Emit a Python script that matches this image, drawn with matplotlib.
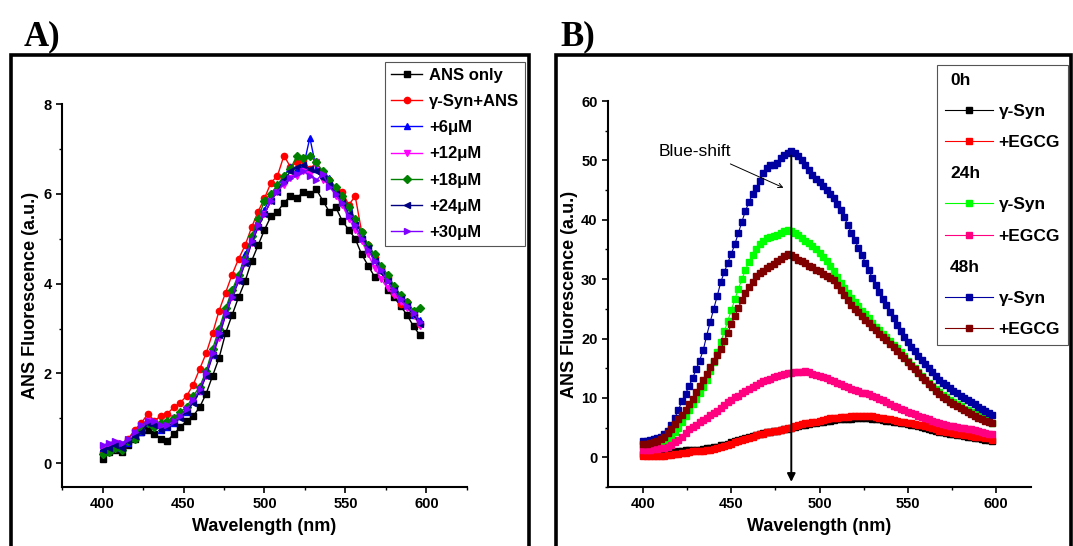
import numpy as np
import matplotlib
matplotlib.use("Agg")
import matplotlib.pyplot as plt
from matplotlib.lines import Line2D
from matplotlib.patches import Rectangle
from matplotlib.ticker import MultipleLocator

plt.rcParams['font.family'] = ['Liberation Sans', 'DejaVu Sans']
plt.rcParams['font.weight'] = 'bold'
plt.rcParams['axes.labelweight'] = 'bold'

# ---- panel A: ANS spectra, 4 nm steps ----
wl_a = np.arange(400, 597, 4)

ans_only = [0.10, 0.25, 0.30, 0.25, 0.40, 0.55, 0.70, 0.75, 0.65, 0.55,
            0.50, 0.65, 0.80, 0.95, 1.05, 1.25, 1.55, 1.95, 2.35, 2.90,
            3.30, 3.70, 4.05, 4.50, 4.85, 5.20, 5.50, 5.60, 5.80, 5.95,
            5.90, 6.05, 6.00, 6.10, 5.85, 5.60, 5.70, 5.40, 5.20, 5.00,
            4.65, 4.40, 4.15, 4.30, 3.85, 3.70, 3.50, 3.30, 3.05, 2.85]
syn_ans = [0.25, 0.40, 0.45, 0.35, 0.55, 0.75, 0.90, 1.10, 0.95, 1.05,
           1.10, 1.25, 1.35, 1.50, 1.75, 2.10, 2.45, 2.90, 3.40, 3.80,
           4.20, 4.55, 4.85, 5.25, 5.60, 5.90, 6.25, 6.40, 6.85, 6.60,
           6.70, 6.75, 6.55, 6.70, 6.45, 6.30, 6.10, 6.05, 5.75, 5.95,
           5.15, 4.85, 4.60, 4.35, 4.15, 3.80, 3.55, 3.60, 3.30, 3.10]
egcg_6 = [0.35, 0.30, 0.35, 0.40, 0.45, 0.60, 0.70, 0.90, 0.85, 0.75,
          0.80, 0.90, 1.05, 1.15, 1.45, 1.60, 2.05, 2.40, 2.95, 3.40,
          3.80, 4.15, 4.65, 5.00, 5.35, 5.65, 5.95, 6.15, 6.40, 6.60,
          6.55, 6.60, 7.25, 6.55, 6.50, 6.35, 6.10, 5.95, 5.70, 5.40,
          5.10, 4.85, 4.60, 4.35, 4.10, 3.95, 3.70, 3.55, 3.30, 3.20]
egcg_12 = [0.30, 0.40, 0.45, 0.40, 0.50, 0.65, 0.80, 0.95, 0.90, 0.85,
           0.90, 1.00, 1.05, 1.20, 1.40, 1.60, 1.95, 2.40, 2.80, 3.30,
           3.70, 4.05, 4.45, 4.90, 5.25, 5.55, 5.85, 6.05, 6.20, 6.35,
           6.40, 6.50, 6.45, 6.70, 6.30, 6.20, 5.95, 5.75, 5.45, 5.20,
           4.95, 4.65, 4.35, 4.10, 3.90, 3.75, 3.60, 3.45, 3.30, 3.05]
egcg_18 = [0.20, 0.25, 0.35, 0.30, 0.50, 0.55, 0.75, 0.90, 0.80, 0.90,
           0.95, 1.00, 1.15, 1.25, 1.50, 1.70, 2.05, 2.55, 3.00, 3.45,
           3.85, 4.20, 4.55, 5.05, 5.45, 5.85, 6.00, 6.20, 6.40, 6.55,
           6.85, 6.80, 6.85, 6.70, 6.50, 6.30, 6.15, 5.95, 5.70, 5.45,
           5.15, 4.85, 4.65, 4.40, 4.20, 3.95, 3.75, 3.60, 3.40, 3.45]
egcg_24 = [0.30, 0.35, 0.40, 0.35, 0.50, 0.60, 0.70, 0.90, 0.85, 0.75,
           0.80, 0.90, 1.00, 1.15, 1.35, 1.60, 1.95, 2.40, 2.85, 3.30,
           3.70, 4.05, 4.45, 4.90, 5.25, 5.55, 5.85, 6.05, 6.30, 6.50,
           6.60, 6.65, 6.55, 6.50, 6.35, 6.20, 6.00, 5.80, 5.55, 5.30,
           5.00, 4.80, 4.50, 4.25, 4.05, 3.85, 3.65, 3.50, 3.30, 3.10]
egcg_30 = [0.40, 0.45, 0.50, 0.45, 0.55, 0.70, 0.85, 0.95, 0.95, 0.85,
           0.85, 0.95, 1.05, 1.20, 1.40, 1.65, 2.00, 2.45, 2.90, 3.35,
           3.70, 4.10, 4.50, 4.95, 5.30, 5.55, 5.85, 6.05, 6.25, 6.35,
           6.45, 6.50, 6.40, 6.30, 6.45, 6.15, 6.00, 5.80, 5.50, 5.30,
           5.00, 4.75, 4.50, 4.30, 4.05, 3.85, 3.65, 3.50, 3.35, 3.15]

series_a = [
    ("ANS only", ans_only, "#000000", "s"),
    ("γ-Syn+ANS", syn_ans, "#FF0000", "o"),
    ("+6μM", egcg_6, "#0000FF", "^"),
    ("+12μM", egcg_12, "#FF00FF", "v"),
    ("+18μM", egcg_18, "#008000", "D"),
    ("+24μM", egcg_24, "#000080", "<"),
    ("+30μM", egcg_30, "#8000FF", ">"),
]

# ---- panel B: time course, 2 nm steps ----
wl_b = np.arange(400, 599, 2)

syn_0h = [0.5, 0.5, 0.5, 0.5, 0.5, 0.6, 0.6, 0.7, 0.8, 0.9,
          1.0, 1.1, 1.2, 1.2, 1.3, 1.3, 1.3, 1.4, 1.5, 1.6,
          1.7, 1.8, 2.0, 2.1, 2.3, 2.5, 2.7, 2.9, 3.1, 3.3,
          3.5, 3.6, 3.8, 3.9, 4.1, 4.2, 4.3, 4.4, 4.5, 4.6,
          4.7, 4.8, 4.9, 5.1, 5.3, 5.4, 5.5, 5.6, 5.7, 5.8,
          5.9, 6.0, 6.1, 6.2, 6.3, 6.4, 6.4, 6.5, 6.5, 6.5,
          6.6, 6.6, 6.6, 6.6, 6.6, 6.5, 6.5, 6.4, 6.3, 6.2,
          6.1, 6.0, 5.9, 5.8, 5.7, 5.6, 5.5, 5.4, 5.3, 5.1,
          5.0, 4.8, 4.6, 4.4, 4.3, 4.2, 4.1, 4.0, 3.9, 3.8,
          3.7, 3.6, 3.5, 3.4, 3.3, 3.2, 3.1, 3.0, 2.9, 2.8]
egcg_0h = [0.3, 0.3, 0.3, 0.3, 0.3, 0.3, 0.3, 0.4, 0.4, 0.5,
           0.6, 0.7, 0.8, 0.9, 1.0, 1.0, 1.1, 1.1, 1.2, 1.3,
           1.4, 1.6, 1.7, 1.9, 2.1, 2.3, 2.5, 2.7, 2.9, 3.1,
           3.3, 3.5, 3.7, 3.9, 4.0, 4.2, 4.3, 4.4, 4.5, 4.6,
           4.7, 4.9, 5.0, 5.2, 5.4, 5.6, 5.7, 5.8, 5.9, 6.0,
           6.1, 6.3, 6.4, 6.6, 6.7, 6.7, 6.8, 6.8, 6.8, 6.9,
           6.9, 6.9, 6.9, 6.9, 7.0, 6.9, 6.8, 6.7, 6.6, 6.5,
           6.4, 6.3, 6.1, 6.0, 5.9, 5.8, 5.7, 5.6, 5.5, 5.4,
           5.3, 5.1, 4.9, 4.7, 4.5, 4.4, 4.3, 4.2, 4.1, 4.0,
           3.9, 3.8, 3.7, 3.6, 3.5, 3.5, 3.4, 3.3, 3.2, 3.0]
syn_24h = [1.9, 1.9, 2.0, 2.1, 2.3, 2.5, 2.8, 3.2, 3.7, 4.3,
           5.0, 5.9, 6.9, 8.0, 9.0, 9.9, 10.8, 11.9, 13.0, 14.6,
           16.1, 17.7, 19.4, 21.2, 23.0, 24.8, 26.6, 28.4, 30.0, 31.6,
           32.9, 34.1, 35.1, 35.9, 36.5, 36.9, 37.1, 37.3, 37.5, 37.8,
           38.1, 38.3, 38.1, 37.8, 37.4, 37.0, 36.5, 36.1, 35.6, 35.0,
           34.4, 33.7, 33.1, 32.3, 31.4, 30.4, 29.4, 28.5, 27.7, 26.9,
           26.1, 25.4, 24.7, 24.1, 23.4, 22.7, 22.0, 21.4, 20.8, 20.2,
           19.6, 19.0, 18.4, 17.7, 17.0, 16.3, 15.6, 15.0, 14.4, 13.7,
           13.1, 12.5, 12.0, 11.5, 11.0, 10.5, 10.1, 9.7, 9.3, 8.9,
           8.6, 8.2, 7.9, 7.6, 7.3, 7.0, 6.7, 6.4, 6.1, 5.8]
egcg_24h = [1.3, 1.3, 1.3, 1.4, 1.4, 1.5, 1.6, 1.8, 2.1, 2.5,
            3.0, 3.5, 4.1, 4.7, 5.1, 5.5, 5.9, 6.3, 6.7, 7.1,
            7.4, 7.8, 8.3, 8.8, 9.3, 9.7, 10.1, 10.4, 10.8, 11.1,
            11.5, 11.8, 12.2, 12.5, 12.8, 13.0, 13.2, 13.5, 13.7, 13.9,
            14.0, 14.2, 14.2, 14.3, 14.4, 14.4, 14.5, 14.3, 14.1, 13.9,
            13.7, 13.5, 13.3, 13.0, 12.8, 12.5, 12.3, 12.0, 11.8, 11.5,
            11.3, 11.1, 10.9, 10.8, 10.6, 10.4, 10.2, 9.9, 9.6, 9.3,
            9.0, 8.7, 8.4, 8.1, 7.9, 7.7, 7.5, 7.3, 7.0, 6.8,
            6.6, 6.4, 6.2, 6.0, 5.8, 5.6, 5.4, 5.3, 5.2, 5.1,
            5.0, 4.9, 4.8, 4.7, 4.6, 4.4, 4.3, 4.1, 4.0, 3.9]
syn_48h = [2.7, 2.8, 3.0, 3.1, 3.3, 3.5, 3.9, 4.5, 5.5, 6.7,
           8.0, 9.5, 10.7, 12.0, 13.3, 14.8, 16.3, 18.0, 20.5, 22.8,
           25.0, 27.2, 29.5, 31.2, 32.8, 34.3, 35.9, 37.8, 39.7, 41.5,
           43.0, 44.3, 45.4, 46.5, 47.8, 48.8, 49.2, 49.3, 49.5, 50.4,
           50.9, 51.2, 51.6, 51.2, 50.7, 50.1, 49.3, 48.4, 47.5, 46.9,
           46.3, 45.7, 45.0, 44.4, 43.6, 42.6, 41.6, 40.4, 39.2, 37.8,
           36.6, 35.3, 34.1, 32.8, 31.5, 30.2, 29.0, 27.8, 26.7, 25.6,
           24.5, 23.4, 22.3, 21.2, 20.2, 19.4, 18.6, 17.9, 17.1, 16.4,
           15.7, 15.0, 14.3, 13.7, 13.1, 12.6, 12.2, 11.7, 11.2, 10.8,
           10.4, 10.0, 9.6, 9.3, 8.9, 8.5, 8.2, 7.8, 7.5, 7.2]
egcg_48h = [2.2, 2.3, 2.4, 2.6, 2.8, 3.1, 3.5, 4.1, 4.8, 5.6,
            6.4, 7.2, 8.0, 8.9, 9.9, 11.0, 12.0, 13.0, 14.0, 15.2,
            16.3, 17.2, 18.2, 19.6, 21.0, 22.4, 23.8, 25.2, 26.5, 27.6,
            28.6, 29.6, 30.5, 31.0, 31.4, 31.8, 32.2, 32.6, 33.0, 33.4,
            33.9, 34.3, 34.1, 33.7, 33.3, 33.0, 32.7, 32.3, 32.0, 31.6,
            31.3, 30.9, 30.5, 30.2, 29.8, 29.1, 28.2, 27.3, 26.5, 25.7,
            25.0, 24.4, 23.8, 23.2, 22.6, 22.0, 21.4, 20.8, 20.3, 19.7,
            19.1, 18.5, 17.9, 17.3, 16.7, 16.0, 15.4, 14.8, 14.2, 13.6,
            13.0, 12.4, 11.8, 11.2, 10.7, 10.2, 9.8, 9.4, 9.0, 8.6,
            8.3, 8.0, 7.6, 7.3, 7.0, 6.7, 6.4, 6.2, 6.0, 5.7]

series_b = [
    ("γ-Syn", syn_0h, "#000000", 3),
    ("+EGCG", egcg_0h, "#FF0000", 4),
    ("γ-Syn", syn_24h, "#00FF00", 5),
    ("+EGCG", egcg_24h, "#FF0080", 5),
    ("γ-Syn", syn_48h, "#0000A0", 6),
    ("+EGCG", egcg_48h, "#800000", 7),
]
groups_b = ["0h", "24h", "48h"]


def style_axes(ax):
    for s in ("top", "right"):
        ax.spines[s].set_visible(False)
    for s in ("left", "bottom"):
        ax.spines[s].set_linewidth(1.5)
    ax.tick_params(which="major", direction="out", length=4, width=1.2,
                   labelsize=10.5)
    ax.tick_params(which="minor", direction="out", length=2.5, width=1.0)
    for t in ax.get_xticklabels() + ax.get_yticklabels():
        t.set_fontweight("bold")


fig = plt.figure(figsize=(10.73, 5.46), dpi=100)

# ---------- A ----------
axA = fig.add_axes([0.0578, 0.108, 0.3774, 0.7015])
for name, vals, col, mk in series_a:
    axA.plot(wl_a, vals, color=col, marker=mk, ms=4.5, lw=1, label=name)
axA.set_xlim(375, 625)
axA.set_ylim(-0.53, 8)
axA.xaxis.set_major_locator(MultipleLocator(50))
axA.xaxis.set_minor_locator(MultipleLocator(25))
axA.yaxis.set_major_locator(MultipleLocator(2))
axA.yaxis.set_minor_locator(MultipleLocator(1))
style_axes(axA)
axA.set_xlabel("Wavelength (nm)", fontsize=13, labelpad=5)
axA.set_ylabel("ANS Fluorescence (a.u.)", fontsize=13, labelpad=3)
legA = axA.legend(loc="upper right", bbox_to_anchor=(525 / 1073, 1 - 62 / 546),
                  bbox_transform=fig.transFigure, fontsize=12, frameon=True,
                  fancybox=False, edgecolor="#555555", framealpha=1,
                  handlelength=1.9, handletextpad=0.4, labelspacing=0.67,
                  borderpad=0.35, borderaxespad=0)
legA.get_frame().set_linewidth(0.8)
for t in legA.get_texts():
    t.set_fontweight("bold")

# ---------- B ----------
axB = fig.add_axes([0.5666, 0.108, 0.3943, 0.7070])
lines_b = []
for name, vals, col, z in series_b:
    ln, = axB.plot(wl_b, vals, color=col, marker="s", ms=4.2, lw=0.8,
                   zorder=z, label=name)
    lines_b.append(ln)
axB.set_xlim(380, 620)
axB.set_ylim(-5, 60)
axB.xaxis.set_major_locator(MultipleLocator(50))
axB.xaxis.set_minor_locator(MultipleLocator(25))
axB.yaxis.set_major_locator(MultipleLocator(10))
axB.yaxis.set_minor_locator(MultipleLocator(5))
style_axes(axB)
axB.set_xlabel("Wavelength (nm)", fontsize=13, labelpad=5)
axB.set_ylabel("ANS Fluorescence (a.u.)", fontsize=13, labelpad=2)

# blue-shift markers
axB.annotate("", xy=(484, -4.6), xytext=(484, 51.3),
             arrowprops=dict(arrowstyle="-|>", color="k", lw=1.4,
                             mutation_scale=12), zorder=10)
axB.annotate("", xy=(481, 45.2), xytext=(448, 49.6),
             arrowprops=dict(arrowstyle="->", color="k", lw=0.7,
                             mutation_scale=8), zorder=10)
axB.text(408.6, 51.5, "Blue-shift", fontsize=12.5, fontweight="normal",
         va="center", ha="left")

handles, labels = [], []
for i, g in enumerate(groups_b):
    handles.append(Line2D([], [], linestyle="none"))
    labels.append(g)
    for ln in lines_b[2 * i:2 * i + 2]:
        handles.append(ln)
        labels.append(ln.get_label())
legB = axB.legend(handles, labels, loc="upper right",
                  bbox_to_anchor=(1068 / 1073, 1 - 65 / 546),
                  bbox_transform=fig.transFigure, fontsize=12.5, frameon=True,
                  fancybox=False, edgecolor="#555555", framealpha=1,
                  handlelength=2.8, handletextpad=0.3, labelspacing=0.92,
                  borderpad=0.45, borderaxespad=0)
legB.get_frame().set_linewidth(0.8)
for t in legB.get_texts():
    t.set_fontweight("bold")
# headers sit flush left, no handle space
for row in legB._legend_handle_box.get_children()[0].get_children():
    box, txt = row.get_children()
    if txt.get_text() in groups_b:
        box.width = 0

# panel frames and letters
fig.patches.append(Rectangle((11 / 1073, -0.05), (529 - 11) / 1073, 1.05 - 55 / 546,
                             transform=fig.transFigure, fill=False, lw=2.6,
                             edgecolor="k"))
fig.patches.append(Rectangle((556 / 1073, -0.05), (1071 - 556) / 1073, 1.05 - 55 / 546,
                             transform=fig.transFigure, fill=False, lw=2.6,
                             edgecolor="k"))
fig.text(24 / 1073, 1 - 45 / 546, "A)", fontsize=25, fontweight="bold",
         family=["Liberation Serif", "DejaVu Serif"], ha="left", va="baseline")
fig.text(560 / 1073, 1 - 45 / 546, "B)", fontsize=25, fontweight="bold",
         family=["Liberation Serif", "DejaVu Serif"], ha="left", va="baseline")

fig.savefig("out.png", dpi=100)
